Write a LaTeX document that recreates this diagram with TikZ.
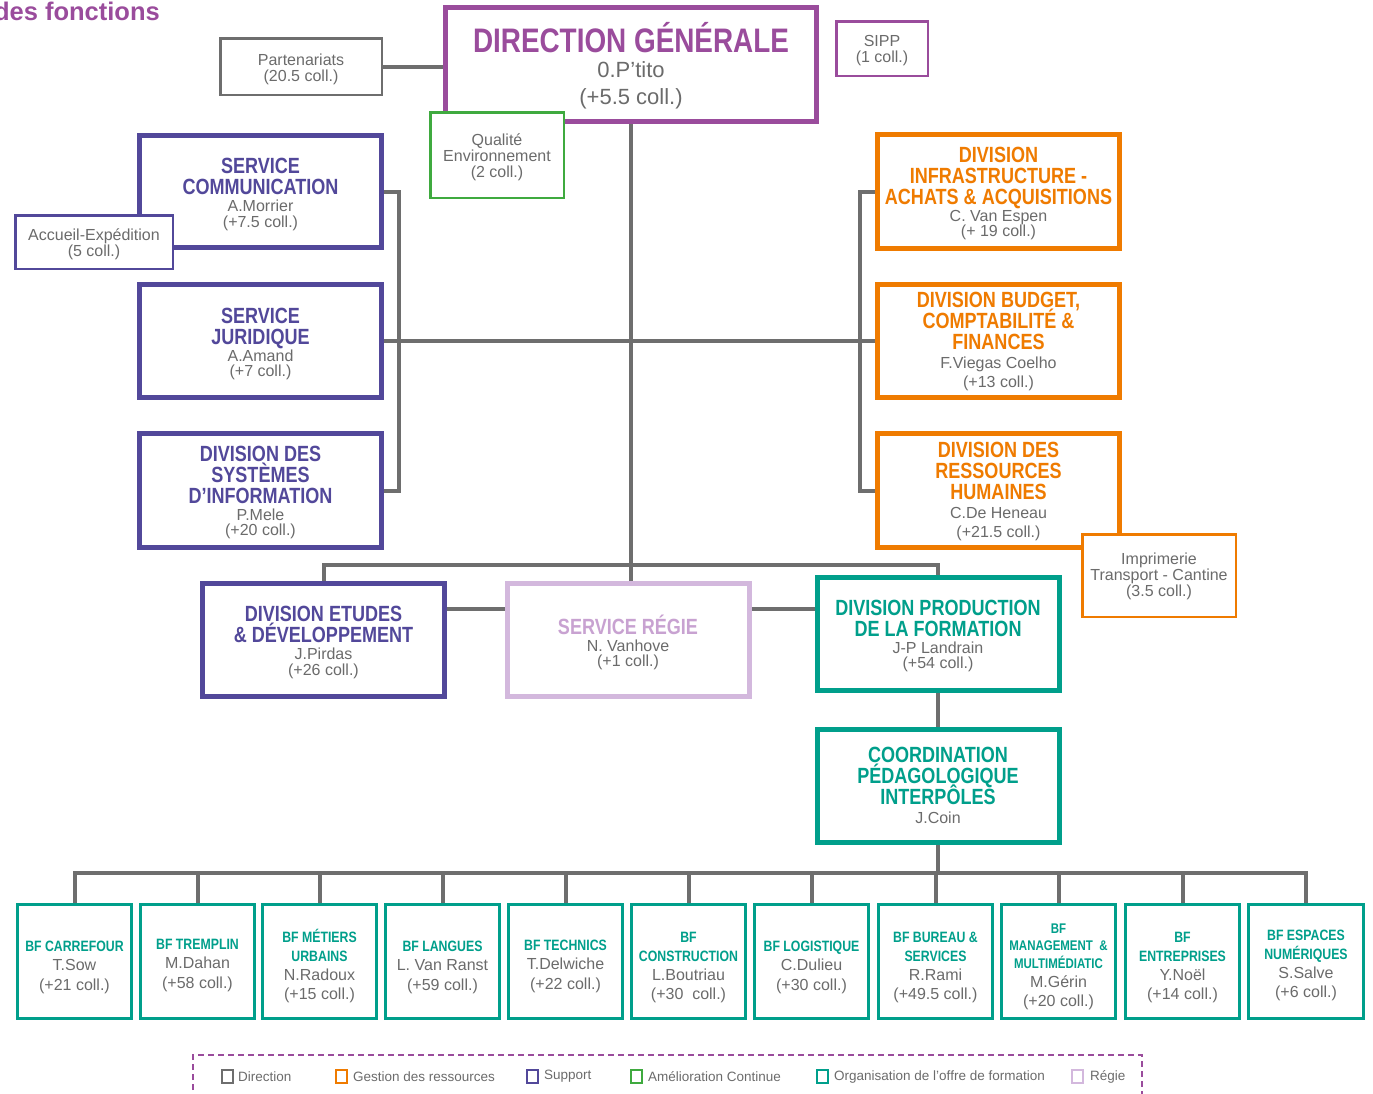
\documentclass[tikz,border=0pt]{standalone}
\usepackage{fontspec}
\usetikzlibrary{backgrounds}
\setmainfont{Liberation Sans}
\newfontfamily\condb[FakeStretch=0.82]{Liberation Sans}
\definecolor{cdir}{HTML}{9A4C9C}
\definecolor{cgrey}{HTML}{6B6B6B}
\definecolor{cline}{HTML}{6E6E6E}
\definecolor{corg}{HTML}{EF7B00}
\definecolor{csup}{HTML}{52489A}
\definecolor{cgrn}{HTML}{3FAA3F}
\definecolor{cteal}{HTML}{009F8B}
\definecolor{creg}{HTML}{D3B8DD}
\definecolor{ctreg}{HTML}{C8A2D1}
\newcommand\fTi{\condb\bfseries\fontsize{22}{22}\selectfont}
\newcommand\fBt{\condb\bfseries\fontsize{15}{15}\selectfont}
\newcommand\fBs{\condb\bfseries\fontsize{14}{14}\selectfont}
\newcommand\fDG{\condb\bfseries\fontsize{34}{34}\selectfont}
\newcommand\fNm{\normalfont\fontsize{16}{16}\selectfont}
\newcommand\fDn{\normalfont\fontsize{22}{22}\selectfont}
\newcommand\fSm{\normalfont\fontsize{16}{16}\selectfont}
\newcommand\tcol{csup}
\newcommand\Lx[4]{{#3\rule[-#2pt]{0pt}{\dimexpr#1pt+#2pt\relax}\smash{#4}}}
\newcommand\stk[2][0]{\vbox{\baselineskip=0pt\lineskip=0pt\lineskiplimit=0pt\halign{\hfil##\hfil\cr\rule{0pt}{#1pt}\cr#2\crcr}}}
\newcommand\Tl[1]{\Lx{16}{5}{\fTi\color{\tcol}}{#1}}
\newcommand\Nl[1]{\Lx{12}{3.5}{\fNm\color{cgrey}}{#1}}
\newcommand\NL[1]{\Lx{14}{5}{\fNm\color{cgrey}}{#1}}
\newcommand\Bt[1]{\Lx{14}{5}{\fBt\color{\tcol}}{#1}}
\newcommand\Bs[1]{\Lx{12.5}{5}{\fBs\color{\tcol}}{#1}}
\newcommand\Bn[1]{\Lx{14}{5.5}{\fNm\color{cgrey}}{#1}}
\newcommand\Sl[1]{\Lx{12}{4}{\fSm\color{cgrey}}{#1}}
\tikzset{
  bigbox/.style={draw, fill=white, line width=5pt, inner sep=0pt, minimum width=242pt, minimum height=113pt},
  supbox/.style={bigbox, draw=csup, execute at begin node={\def\tcol{csup}}},
  orgbox/.style={bigbox, draw=corg, execute at begin node={\def\tcol{corg}}},
  teabox/.style={bigbox, draw=cteal, execute at begin node={\def\tcol{cteal}}},
  regbox/.style={bigbox, draw=creg, execute at begin node={\def\tcol{ctreg}}},
  smallbox/.style={draw, fill=white, line width=2.5pt, inner sep=0pt},
  bfbox/.style={draw=cteal, fill=white, line width=3pt, inner sep=0pt, minimum width=114pt, minimum height=114pt, execute at begin node={\def\tcol{cteal}}},
  conn/.style={draw=cline, line width=4pt},
  lgsq/.style={draw, fill=white, line width=2pt, minimum width=11pt, minimum height=13pt, inner sep=0pt},
  lgtx/.style={anchor=west, inner sep=0pt, font=\fontsize{13.5}{13.5}\selectfont, text=cgrey},
}
\begin{document}
\begin{tikzpicture}[x=1pt,y=-1pt]
\useasboundingbox (0,0) rectangle (1373,1093);
% title
\node[anchor=base east, inner sep=0pt, font=\bfseries\fontsize{25.5}{25.5}\selectfont, text=cdir] (ttl) at (160,20) {des fonctions};
% coordinates
\coordinate (hub) at (631,565);
\coordinate (bus) at (938,873);
% ---- boxes
\node[bigbox, draw=cdir, minimum width=371pt, minimum height=114pt] (dg) at (631,64.5)
  {\stk[3]{\Lx{28}{5}{\fDG\color{cdir}}{DIRECTION GÉNÉRALE}\cr\Lx{20}{7}{\fDn\color{cgrey}}{0.P’tito}\cr\Lx{20}{4}{\fDn\color{cgrey}}{(+5.5 coll.)}}};
\node[smallbox, draw=cline, minimum width=161.5pt, minimum height=56.5pt] (part) at (301,66.5)
  {\stk[5]{\Sl{Partenariats}\cr\Sl{(20.5 coll.)}}};
\node[smallbox, draw=cdir, minimum width=91.5pt, minimum height=54.5pt] (sipp) at (882,48.5)
  {\stk[4]{\Sl{SIPP}\cr\Sl{(1 coll.)}}};
\node[supbox, minimum height=112pt] (comm) at (260.5,191.5)
  {\stk[5]{\Tl{SERVICE}\cr\Tl{COMMUNICATION}\cr\Nl{A.Morrier}\cr\Nl{(+7.5 coll.)}}};
\node[supbox] (jur) at (260.5,341)
  {\stk[5]{\Tl{SERVICE}\cr\Tl{JURIDIQUE}\cr\Nl{A.Amand}\cr\Nl{(+7 coll.)}}};
\node[supbox, minimum height=114pt] (dsi) at (260.5,490.5)
  {\stk[3]{\Tl{DIVISION DES}\cr\Tl{SYSTÈMES}\cr\Tl{D’INFORMATION}\cr\Nl{P.Mele}\cr\Nl{(+20 coll.)}}};
\node[orgbox, minimum height=114pt] (infra) at (998.5,191.5)
  {\stk[3]{\Tl{DIVISION}\cr\Tl{INFRASTRUCTURE -}\cr\Tl{ACHATS \& ACQUISITIONS}\cr\Nl{C. Van Espen}\cr\Nl{(+ 19 coll.)}}};
\node[orgbox] (bud) at (998.5,341)
  {\stk[2]{\Tl{DIVISION BUDGET,}\cr\Tl{COMPTABILITÉ \&}\cr\Tl{FINANCES}\cr\NL{F.Viegas Coelho}\cr\NL{(+13 coll.)}}};
\node[orgbox, minimum height=114pt] (rh) at (998.5,490.5)
  {\stk[3]{\Tl{DIVISION DES}\cr\Tl{RESSOURCES}\cr\Tl{HUMAINES}\cr\NL{C.De Heneau}\cr\NL{(+21.5 coll.)}}};
\node[supbox] (etudes) at (323.5,640)
  {\stk[4]{\Tl{DIVISION ETUDES}\cr\Tl{\& DÉVELOPPEMENT}\cr\Nl{J.Pirdas}\cr\Nl{(+26 coll.)}}};
\node[regbox] (regie) at (628,640)
  {\stk[8]{\Tl{SERVICE RÉGIE}\cr\Nl{N. Vanhove}\cr\Nl{(+1 coll.)}}};
\node[teabox] (prod) at (938,634)
  {\stk[3]{\Tl{DIVISION PRODUCTION}\cr\Tl{DE LA FORMATION}\cr\Nl{J-P Landrain}\cr\Nl{(+54 coll.)}}};
\node[teabox] (coord) at (938,786)
  {\stk[2]{\Tl{COORDINATION}\cr\Tl{PÉDAGOLOGIQUE}\cr\Tl{INTERPÔLES}\cr\NL{J.Coin}}};
% small boxes overlapping the big ones
\node[smallbox, draw=cgrn, minimum width=133.5pt, minimum height=85.5pt] (qual) at (497,155)
  {\stk[4]{\Sl{Qualité}\cr\Sl{Environnement}\cr\Sl{(2 coll.)}}};
\node[smallbox, draw=csup, minimum width=157.5pt, minimum height=53.5pt] (accu) at (94,242)
  {\stk[4]{\Sl{Accueil-Expédition}\cr\Sl{(5 coll.)}}};
\node[smallbox, draw=corg, minimum width=153.5pt, minimum height=82.5pt] (impr) at (1159,575.5)
  {\stk[2]{\Sl{Imprimerie}\cr\Sl{Transport - Cantine}\cr\Sl{(3.5 coll.)}}};
% BF
\node[bfbox] (bf1) at (74.5,961.5) {\stk[10]{\Bt{BF CARREFOUR}\cr\Bn{T.Sow}\cr\Bn{(+21 coll.)}}};
\node[bfbox] (bf2) at (197.5,961.5) {\stk[6]{\Bt{BF TREMPLIN}\cr\Bn{M.Dahan}\cr\Bn{(+58 coll.)}}};
\node[bfbox] (bf3) at (319.5,961.5) {\stk[10]{\Bt{BF MÉTIERS}\cr\Bt{URBAINS}\cr\Bn{N.Radoux}\cr\Bn{(+15 coll.)}}};
\node[bfbox] (bf4) at (442.5,961.5) {\stk[10]{\Bt{BF LANGUES}\cr\Bn{L. Van Ranst}\cr\Bn{(+59 coll.)}}};
\node[bfbox] (bf5) at (565.5,961.5) {\stk[8]{\Bt{BF TECHNICS}\cr\Bn{T.Delwiche}\cr\Bn{(+22 coll.)}}};
\node[bfbox] (bf6) at (688.5,961.5) {\stk[10]{\Bt{BF}\cr\Bt{CONSTRUCTION}\cr\Bn{L.Boutriau}\cr\Bn{(+30\ \ coll.)}}};
\node[bfbox] (bf7) at (811.5,961.5) {\stk[10]{\Bt{BF LOGISTIQUE}\cr\Bn{C.Dulieu}\cr\Bn{(+30 coll.)}}};
\node[bfbox] (bf8) at (935.5,961.5) {\stk[10]{\Bt{BF BUREAU \&}\cr\Bt{SERVICES}\cr\Bn{R.Rami}\cr\Bn{(+49.5 coll.)}}};
\node[bfbox] (bf9) at (1058.5,961.5) {\stk[10]{\Bs{BF}\cr\Bs{MANAGEMENT\ \ \&}\cr\Bs{MULTIMÉDIATIC}\cr\Bn{M.Gérin}\cr\Bn{(+20 coll.)}}};
\node[bfbox] (bf10) at (1182.5,961.5) {\stk[10]{\Bt{BF}\cr\Bt{ENTREPRISES}\cr\Bn{Y.Noël}\cr\Bn{(+14 coll.)}}};
\node[bfbox, minimum width=115pt] (bf11) at (1306,961.5) {\stk[6]{\Bt{BF ESPACES}\cr\Bt{NUMÉRIQUES}\cr\Bn{S.Salve}\cr\Bn{(+6 coll.)}}};
% ---- connectors (behind boxes)
\begin{scope}[on background layer]
  \draw[conn] (part.east) -- (part.east -| dg.west);
  \draw[conn] (dg.south) -- (dg.south |- regie.north);
  \draw[conn] (etudes.north) |- (hub);
  \draw[conn] (prod.north) |- (hub);
  \draw[conn] (jur.east) -- (bud.west);
  \draw[conn] (comm.east) -- ++(15,0) |- (dsi.east);
  \draw[conn] (infra.west) -- ++(-15,0) |- (rh.west);
  \draw[conn] (etudes.east |- 0,609) -- (regie.west |- 0,609);
  \draw[conn] (regie.east |- 0,609) -- (prod.west |- 0,609);
  \draw[conn] (prod.south) -- (coord.north);
  \draw[conn] (coord.south) -- (bus);
  \foreach \i in {1,...,11} \draw[conn] (bf\i.north) |- (bus);
\end{scope}
% ---- legend
\draw[cdir, line width=2pt, dash pattern=on 6pt off 4pt] (193,1100) -- (193,1055) -- (1142,1055) -- (1142,1100);
\node[lgsq, draw=cline] (lg1) at (227.5,1076.5) {};
\node[lgtx] (lt1) at ([xshift=4pt]lg1.east) {Direction};
\node[lgsq, draw=corg] (lg2) at (341.5,1076.5) {};
\node[lgtx] (lt2) at ([xshift=5pt]lg2.east) {Gestion des ressources};
\node[lgsq, draw=csup] (lg3) at (532.5,1076.5) {};
\node[lgtx] (lt3) at ([xshift=5pt]lg3.east) {Support};
\node[lgsq, draw=cgrn] (lg4) at (636.5,1076.5) {};
\node[lgtx] (lt4) at ([xshift=5pt]lg4.east) {Amélioration Continue};
\node[lgsq, draw=cteal] (lg5) at (822.5,1076.5) {};
\node[lgtx] (lt5) at ([xshift=5pt]lg5.east) {Organisation de l’offre de formation};
\node[lgsq, draw=creg] (lg6) at (1077.5,1076.5) {};
\node[lgtx] (lt6) at ([xshift=6pt]lg6.east) {Régie};
\end{tikzpicture}
\end{document}
